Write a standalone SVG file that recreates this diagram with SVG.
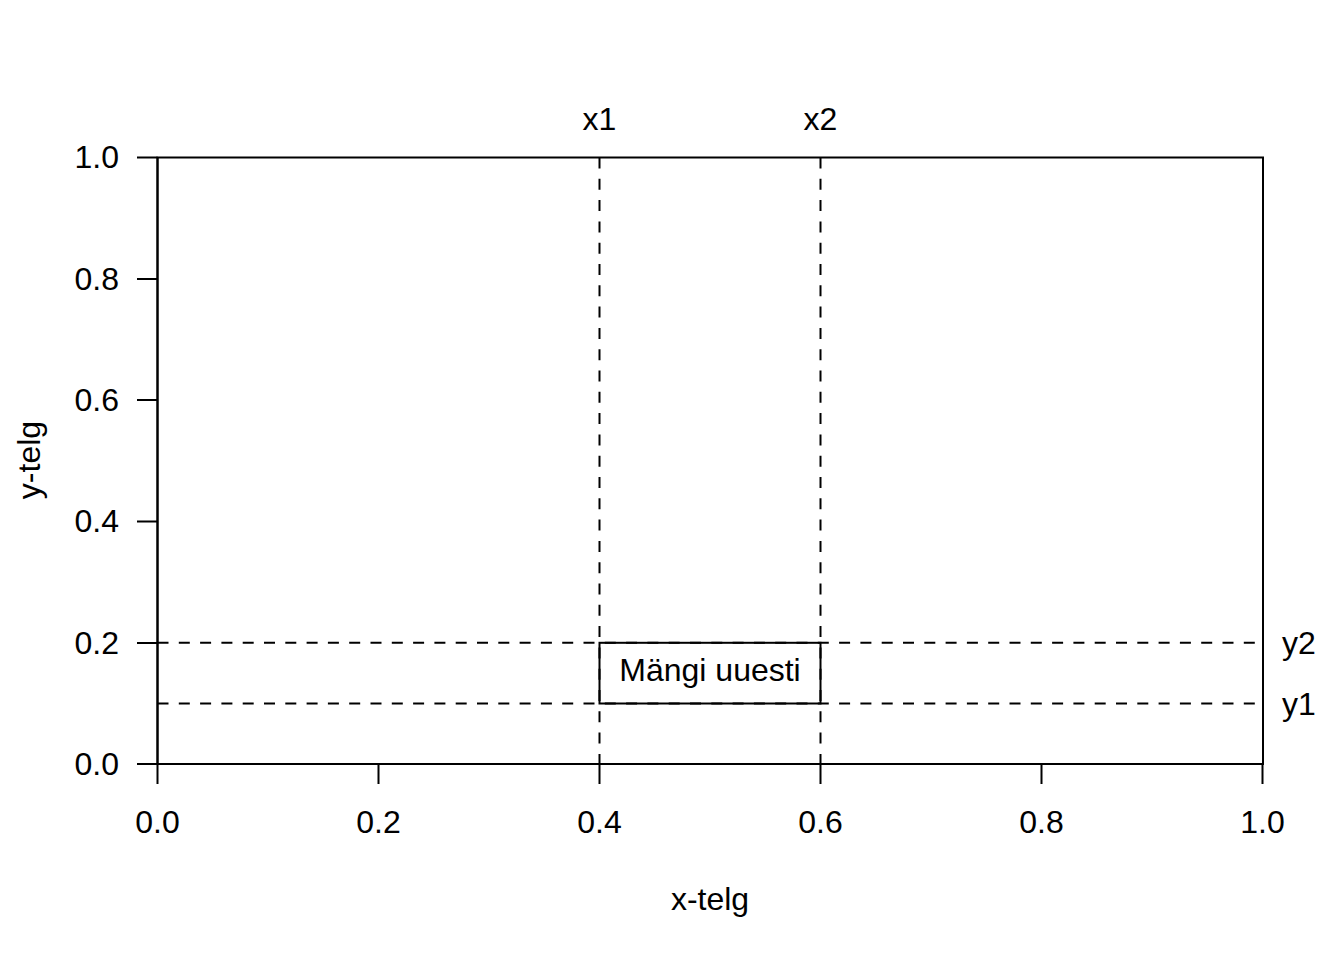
<svg xmlns="http://www.w3.org/2000/svg" width="1344" height="960" viewBox="0 0 1344 960">
<style>
text{font-family:"Liberation Sans",Arial,sans-serif;font-size:32px;fill:#000}
.ax{stroke:#000;stroke-width:2;fill:none}
.dash{stroke:#000;stroke-width:2;fill:none;stroke-dasharray:11 10.3}
.mid{text-anchor:middle}
.end{text-anchor:end}
</style>
<rect width="1344" height="960" fill="#fff"/>
<g id="plot-box">
<rect class="ax" x="157.5" y="157.5" width="1105.5" height="606.5"/>
</g>
<g id="x-axis">
<path class="ax" d="M157.5 764V784M378.5 764V784M599.5 764V784M820.5 764V784M1041.5 764V784M1262.5 764V784M157.5 764H1263"/>
<text class="mid" x="157.5" y="833">0.0</text>
<text class="mid" x="378.5" y="833">0.2</text>
<text class="mid" x="599.5" y="833">0.4</text>
<text class="mid" x="820.5" y="833">0.6</text>
<text class="mid" x="1041.5" y="833">0.8</text>
<text class="mid" x="1262.5" y="833">1.0</text>
<text class="mid" x="710" y="910">x-telg</text>
</g>
<g id="y-axis">
<path class="ax" d="M137 764H157.5M137 643H157.5M137 521.5H157.5M137 400H157.5M137 279H157.5M137 157.5H157.5M157.5 157.5V764"/>
<text class="end" x="119" y="775">0.0</text>
<text class="end" x="119" y="654">0.2</text>
<text class="end" x="119" y="532">0.4</text>
<text class="end" x="119" y="411">0.6</text>
<text class="end" x="119" y="290">0.8</text>
<text class="end" x="119" y="168">1.0</text>
<text class="mid" transform="translate(40 460) rotate(-90)">y-telg</text>
</g>
<g id="connectors">
<path class="dash" d="M599.5 157.5V764M820.5 157.5V764M157.5 642.8H1263M157.5 703.5H1263"/>
</g>
<g id="labels">
<text class="mid" x="599.5" y="130">x1</text>
<text class="mid" x="820.5" y="130">x2</text>
<text x="1282" y="654">y2</text>
<text x="1282" y="715">y1</text>
</g>
<g id="button">
<rect class="ax" x="599.5" y="642.8" width="221" height="60.7"/>
<text class="mid" x="710" y="681">Mängi uuesti</text>
</g>
</svg>
